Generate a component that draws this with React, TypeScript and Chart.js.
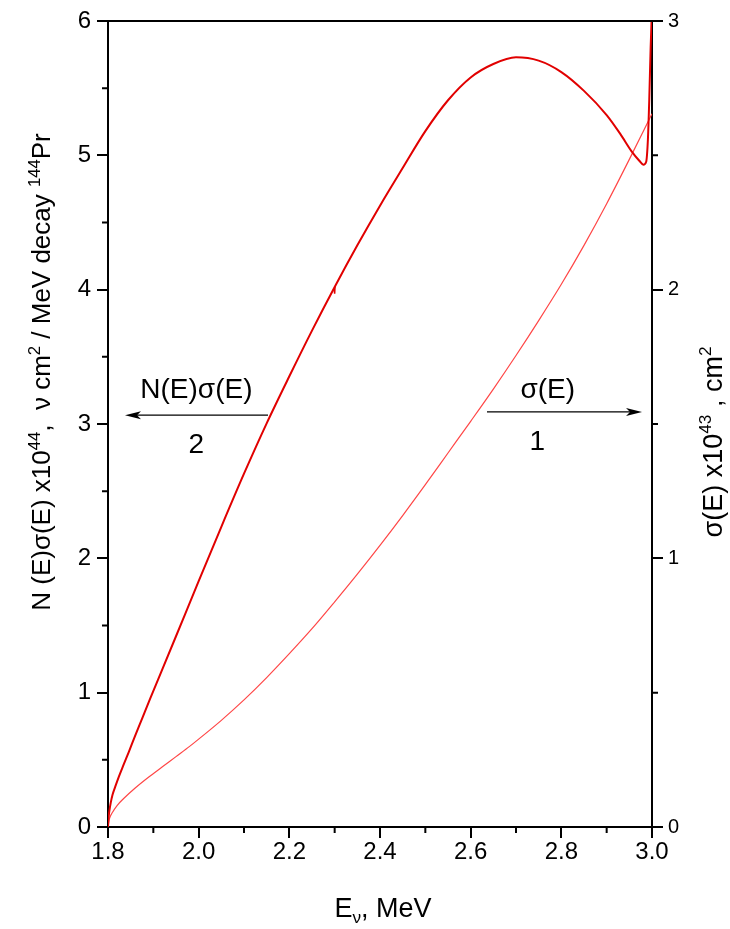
import React, { useEffect, useRef } from 'react';
import { Chart, registerables } from 'chart.js';
Chart.register(...registerables);

// Curve 2: N(E)σ(E) x1e44 (left axis)
const energyN = [1.8, 1.801, 1.803, 1.806, 1.81, 1.816, 1.824, 1.834, 1.846, 1.86, 1.875, 1.893, 1.92, 1.95, 2.0, 2.05, 2.1, 2.15, 2.2, 2.25, 2.3, 2.35, 2.4, 2.45, 2.5, 2.55, 2.6, 2.65, 2.7, 2.75, 2.8, 2.85, 2.9, 2.93, 2.955, 2.972, 2.981, 2.987, 2.991, 2.994, 2.997, 2.999];
const valuesN = [0, 0.06, 0.12, 0.18, 0.24, 0.3, 0.375, 0.46, 0.56, 0.68, 0.805, 0.955, 1.175, 1.42, 1.83, 2.235, 2.63, 3.005, 3.355, 3.695, 4.02, 4.33, 4.625, 4.905, 5.18, 5.41, 5.58, 5.68, 5.73, 5.705, 5.62, 5.48, 5.3, 5.16, 5.03, 4.96, 4.93, 4.95, 5.12, 5.42, 5.8, 6.0];

// small hook in curve 2 near 2.3 MeV
const energyHook = [2.2985, 2.3, 2.3008];
const valuesHook = [4.01, 3.97, 4.025];

// Curve 1: σ(E) x1e43 (right axis)
const energySigma = [1.8, 1.803, 1.81, 1.82, 1.834, 1.86, 1.89, 1.92, 1.95, 1.98, 2.0, 2.05, 2.1, 2.15, 2.2, 2.25, 2.3, 2.35, 2.4, 2.45, 2.5, 2.55, 2.6, 2.65, 2.7, 2.75, 2.8, 2.85, 2.9, 2.95, 3.0];
const valuesSigma = [0, 0.03, 0.055, 0.08, 0.105, 0.145, 0.186, 0.224, 0.262, 0.3, 0.327, 0.397, 0.473, 0.556, 0.645, 0.738, 0.838, 0.941, 1.048, 1.159, 1.274, 1.392, 1.51, 1.63, 1.755, 1.885, 2.02, 2.165, 2.32, 2.485, 2.655];

const xTicks = [1.8, 2.0, 2.2, 2.4, 2.6, 2.8, 3.0];
const xMinor = [1.9, 2.1, 2.3, 2.5, 2.7, 2.9];
const leftTicks = [0, 1, 2, 3, 4, 5, 6];
const leftMinor = [0.5, 1.5, 2.5, 3.5, 4.5, 5.5];
const rightTicks = [0, 1, 2, 3];
const rightMinor = [0.5, 1.5, 2.5];

const FONT = '"Liberation Sans", Arial, Helvetica, sans-serif';

type Seg = [string, number];

function richWidth(ctx: CanvasRenderingContext2D, segs: Seg[], size: number) {
  let w = 0;
  for (const [t, m] of segs) {
    ctx.font = `${m ? size * 0.64 : size}px ${FONT}`;
    w += ctx.measureText(t).width;
  }
  return w;
}

function drawRich(ctx: CanvasRenderingContext2D, segs: Seg[], x: number, y: number, size: number) {
  const total = richWidth(ctx, segs, size);
  let cx = x - total / 2;
  ctx.textAlign = 'left';
  ctx.textBaseline = 'alphabetic';
  for (const [t, m] of segs) {
    ctx.font = `${m ? size * 0.64 : size}px ${FONT}`;
    const dy = m === 1 ? -size * 0.4 : m === -1 ? size * 0.22 : 0;
    ctx.fillText(t, cx, y + dy);
    cx += ctx.measureText(t).width;
  }
}

function arrow(ctx: CanvasRenderingContext2D, x1: number, x2: number, y: number) {
  const dir = Math.sign(x2 - x1);
  ctx.beginPath();
  ctx.moveTo(x1, y);
  ctx.lineTo(x2 - dir * 10, y);
  ctx.lineWidth = 1.3;
  ctx.strokeStyle = '#000';
  ctx.stroke();
  ctx.beginPath();
  ctx.moveTo(x2, y);
  ctx.lineTo(x2 - dir * 16, y - 4);
  ctx.lineTo(x2 - dir * 12, y);
  ctx.lineTo(x2 - dir * 16, y + 4);
  ctx.closePath();
  ctx.fillStyle = '#000';
  ctx.fill();
}

const decorPlugin = {
  id: 'decor',
  afterDraw(chart: any) {
    const ctx: CanvasRenderingContext2D = chart.ctx;
    const { left, right, top, bottom } = chart.chartArea;
    const xs = chart.scales.x, ys = chart.scales.y, y2 = chart.scales.y2;
    ctx.save();
    ctx.strokeStyle = '#000';
    ctx.lineWidth = 2;
    ctx.beginPath();
    ctx.moveTo(left - 1, top);
    ctx.lineTo(right + 1, top);
    ctx.stroke();
    ctx.beginPath();
    for (const v of xMinor) {
      const p = xs.getPixelForValue(v);
      ctx.moveTo(p, bottom); ctx.lineTo(p, bottom + 6);
    }
    for (const v of leftMinor) {
      const p = ys.getPixelForValue(v);
      ctx.moveTo(left, p); ctx.lineTo(left - 6, p);
    }
    for (const v of rightMinor) {
      const p = y2.getPixelForValue(v);
      ctx.moveTo(right, p); ctx.lineTo(right + 6, p);
    }
    ctx.stroke();

    ctx.fillStyle = '#000';
    drawRich(ctx, [['E', 0], ['ν', -1], [', MeV', 0]], 383, 917, 27);
    ctx.save();
    ctx.translate(50, 372);
    ctx.rotate(-Math.PI / 2);
    drawRich(ctx, [['N (E)σ(E) x10', 0], ['44', 1], [',  ν cm', 0], ['2', 1], [' / MeV decay ', 0], ['144', 1], ['Pr', 0]], 0, 0, 26);
    ctx.restore();
    ctx.save();
    ctx.translate(722, 442);
    ctx.rotate(-Math.PI / 2);
    drawRich(ctx, [['σ(E) x10', 0], ['43', 1], [' , cm', 0], ['2', 1]], 0, 0, 27);
    ctx.restore();

    const yA = ys.getPixelForValue(3.066);
    ctx.fillStyle = '#000';
    drawRich(ctx, [['N(E)σ(E)', 0]], xs.getPixelForValue(1.995), yA - 17, 28);
    arrow(ctx, xs.getPixelForValue(2.153), xs.getPixelForValue(1.8375), yA);
    drawRich(ctx, [['2', 0]], xs.getPixelForValue(1.995), yA + 38, 28);
    const yB = ys.getPixelForValue(3.09);
    drawRich(ctx, [['σ(E)', 0]], xs.getPixelForValue(2.77), yB - 14, 28);
    arrow(ctx, xs.getPixelForValue(2.636), xs.getPixelForValue(2.978), yB);
    drawRich(ctx, [['1', 0]], xs.getPixelForValue(2.747), yB + 38, 28);
    ctx.restore();
  },
};

export default function App() {
  const ref = useRef<HTMLCanvasElement>(null);
  useEffect(() => {
    document.body.style.margin = '0';
    const axisCommon = {
      grid: { drawOnChartArea: false, drawTicks: true, tickLength: 11, color: '#000', lineWidth: 2 },
      border: { display: true, color: '#000', width: 2 },
    };
    const chart = new Chart(ref.current!, {
      type: 'line',
      data: {
        datasets: [
          {
            label: 'N(E)σ(E)',
            data: energyN.map((e, i) => ({ x: e, y: valuesN[i] })),
            yAxisID: 'y',
            borderColor: 'rgb(225,0,0)',
            borderWidth: 2,
            pointRadius: 0,
            cubicInterpolationMode: 'monotone',
          },
          {
            label: 'hook',
            data: energyHook.map((e, i) => ({ x: e, y: valuesHook[i] })),
            yAxisID: 'y',
            borderColor: 'rgb(225,0,0)',
            borderWidth: 1.5,
            pointRadius: 0,
            tension: 0,
          },
          {
            label: 'σ(E)',
            data: energySigma.map((e, i) => ({ x: e, y: valuesSigma[i] })),
            yAxisID: 'y2',
            borderColor: 'rgb(255,70,70)',
            borderWidth: 1.2,
            pointRadius: 0,
            cubicInterpolationMode: 'monotone',
          },
        ],
      },
      options: {
        animation: false,
        responsive: false,
        maintainAspectRatio: false,
        layout: { padding: { top: 21, left: 0, right: 0, bottom: 0 } },
        plugins: { legend: { display: false }, tooltip: { enabled: false } },
        scales: {
          x: {
            type: 'linear',
            min: 1.8,
            max: 3.0,
            ...axisCommon,
            afterBuildTicks: (s: any) => { s.ticks = xTicks.map((v) => ({ value: v })); },
            afterFit: (s: any) => { s.height = 102; },
            ticks: {
              color: '#000',
              font: { family: FONT, size: 24 },
              padding: 0,
              maxRotation: 0,
              callback: (v: any) => Number(v).toFixed(1),
            },
          },
          y: {
            type: 'linear',
            position: 'left',
            min: 0,
            max: 6,
            ...axisCommon,
            afterBuildTicks: (s: any) => { s.ticks = leftTicks.map((v) => ({ value: v })); },
            afterFit: (s: any) => { s.width = 108; },
            ticks: { color: '#000', font: { family: FONT, size: 24 }, padding: 6 },
          },
          y2: {
            type: 'linear',
            position: 'right',
            min: 0,
            max: 3,
            ...axisCommon,
            afterBuildTicks: (s: any) => { s.ticks = rightTicks.map((v) => ({ value: v })); },
            afterFit: (s: any) => { s.width = 78; },
            ticks: { color: '#000', font: { family: FONT, size: 20 }, padding: 5 },
          },
        },
      },
      plugins: [decorPlugin],
    } as any);
    return () => chart.destroy();
  }, []);
  return (
    <div style={{ position: 'absolute', left: 0, top: 0, width: 730, height: 929, background: '#fff' }}>
      <canvas ref={ref} width={730} height={929} style={{ display: 'block' }} />
    </div>
  );
}
